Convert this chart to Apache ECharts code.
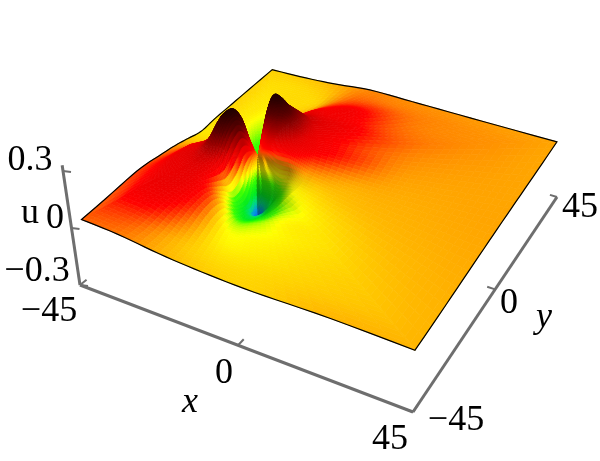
<!DOCTYPE html>
<html><head><meta charset="utf-8">
<style>html,body{margin:0;padding:0;background:#fff}#c{width:600px;height:461px}</style>
<script src="https://cdn.jsdelivr.net/npm/echarts@6/dist/echarts.min.js"></script>
</head><body><div id="c"></div>
<script>
// ---- data: u on a polar mesh around the central dip ----
const center = [-22.5, 0.8];
const anglesDeg = [61,76,91,106,121,136,151,166,181,196,211,226,241,256,271,286,301,316,331,346,361,376,391,406];
const innerRadii = [0,2,4,6,8,10,13,16];
const outerFractions = [0.2,0.4,0.6,0.8,1];
const u061 = [0,.12,.23,.285,.26,.21,.16,.11,.07,.065,.036,.012,.004];
const u076 = [0,.07,.17,.24,.22,.17,.11,.085,.065,.04,.022,.012,.006];
const u091 = [0,.02,.09,.15,.14,.10,.06,.025,0,-.015,-.025,-.02,-.012];
const u106 = [0,-.01,-.02,-.03,-.06,-.07,-.07,-.06,-.045,-.035,-.03,-.03,-.022];
const u121 = [0,-.05,-.10,-.13,-.14,-.13,-.115,-.10,-.065,-.04,-.035,-.03,-.025];
const u136 = [0,-.05,-.10,-.12,-.115,-.10,-.09,-.06,-.045,-.04,-.035,-.03,-.028];
const u151 = [0,-.03,-.07,-.08,-.075,-.06,-.05,-.04,-.038,-.036,-.035,-.035,-.03];
const u166 = [0,-.01,-.04,-.05,-.05,-.045,-.04,-.035,-.032,-.035,-.035,-.036,-.036];
const u181 = [0,0,0,-.02,-.025,-.02,-.015,-.015,-.018,-.02,-.022,-.022,-.018];
const u196 = [0,.01,.03,.04,.04,.04,.04,.02,.012,.008,.004,0,0];
const u211 = [0,.035,.11,.15,.15,.13,.09,.075,.065,.045,.03,.022,.015];
const u226 = [0,.07,.18,.23,.23,.20,.13,.095,.085,.075,.055,.04,.03];
const u241 = [0,.09,.22,.28,.28,.25,.17,.11,.08,.075,.058,.035,.02];
const u256 = [0,.06,.16,.21,.20,.16,.10,.075,.075,.072,.058,.025,.012];
const u271 = [0,.02,0,-.03,-.07,-.09,-.09,-.05,.02,.03,.01,-.01,-.01];
const u286 = [0,-.06,-.17,-.24,-.23,-.20,-.17,-.15,-.085,-.05,-.04,-.03,-.022];
const u301 = [0,-.05,-.15,-.245,-.23,-.20,-.175,-.145,-.08,-.05,-.04,-.03,-.025];
const u316 = [0,-.04,-.12,-.18,-.185,-.165,-.14,-.11,-.05,-.04,-.03,-.022,-.012];
const u331 = [0,0,-.06,-.11,-.14,-.12,-.09,-.06,-.04,-.028,-.02,-.015,-.012];
const u346 = [0,.02,-.02,-.05,-.06,-.05,-.035,-.03,-.02,-.015,-.012,-.01,-.008];
const u001 = [0,.04,.06,.05,.05,.05,.035,.015,-.005,-.008,-.008,-.006,-.005];
const u016 = [0,.06,.12,.13,.10,.085,.07,.06,.03,.002,-.003,-.004,-.005];
const u031 = [0,.07,.16,.19,.17,.13,.085,.07,.03,.012,.004,0,-.005];
const u046 = [0,.10,.21,.26,.24,.19,.125,.09,.068,.03,.012,.006,0];
const uRows = [u061,u076,u091,u106,u121,u136,u151,u166,u181,u196,u211,u226,u241,u256,u271,u286,u301,u316,u331,u346,u001,u016,u031,u046];
const xTicks = [-45,0,45], yTicks = [-45,0,45], uTicks = [-0.3,0,0.3];

// ---- projection (camera calibration) ----
function quadMap(p){ // unit square -> quad
  const [x0,y0]=p[0],[x1,y1]=p[1],[x2,y2]=p[2],[x3,y3]=p[3];
  const dx1=x1-x2,dx2=x3-x2,sx=x0-x1+x2-x3,dy1=y1-y2,dy2=y3-y2,sy=y0-y1+y2-y3;
  const det=dx1*dy2-dx2*dy1,g=(sx*dy2-dx2*sy)/det,h=(dx1*sy-sx*dy1)/det;
  const a=x1-x0+g*x1,b=x3-x0+h*x3,d=y1-y0+g*y1,e=y3-y0+h*y3;
  return (x,y)=>{const s=(x+45)/90,t=(y+45)/90,w=g*s+h*t+1;return [(a*s+b*t+x0)/w,(d*s+e*t+y0)/w];};
}
const planeMap = quadMap([[82,223],[415,348],[557,141],[272,65]]);
const boxMap = quadMap([[80,285],[413,412],[557,197],[289,115]]);
const K = 190;
function project(x,y,u){
  const [X,Y]=planeMap(x,y);
  return [X+K*u*(X-400)/320*0.15, Y-K*u];
}
function uAxisPoint(u){const f=(u+0.3)/0.6;return [80-17*f,285-114*f];}

// ---- colours ----
const colorStops = [[-.27,30,80,230],[-.235,0,150,230],[-.20,0,220,130],[-.16,0,235,30],[-.10,60,255,0],[-.075,170,255,0],[-.05,255,255,0],[-.02,255,200,0],[-.005,255,165,0],[.01,255,125,0],[.03,255,60,0],[.05,255,0,0],[.09,225,0,0],[.14,160,0,0],[.2,90,0,0],[.28,35,0,0]];
function colorOf(u,shade){
  let i=0; while(i<colorStops.length-2&&u>colorStops[i+1][0])i++;
  const a=colorStops[i],b=colorStops[i+1];
  let f=(u-a[0])/(b[0]-a[0]); f=Math.max(0,Math.min(1,f));
  const c=[1,2,3].map(k=>Math.round((a[k]+(b[k]-a[k])*f)*shade));
  return 'rgb('+c.join(',')+')';
}

// ---- smooth evaluation of the mesh (like a smoothed line) ----
const nA=anglesDeg.length, nR=uRows[0].length;
function cr(a,b,c,d,t){return 0.5*(2*b+(c-a)*t+(2*a-5*b+4*c-d)*t*t+(3*b-a-3*c+d)*t*t*t);}
function evalU(k,j){
  const k0=Math.min(Math.floor(k),nR-2),tk=k-k0,j0=Math.floor(j),tj=j-j0;
  const row=q=>{
    const r=uRows[((j0+q)%nA+nA)%nA];
    const g=m=>r[Math.max(0,Math.min(nR-1,m))];
    return cr(g(k0-1),g(k0),g(k0+1),g(k0+2),tk);
  };
  return cr(row(-1),row(0),row(1),row(2),tj);
}
function boundaryDist(c,s){
  let r=1e9;
  if(c>1e-9)r=Math.min(r,(45-center[0])/c); if(c<-1e-9)r=Math.min(r,(-45-center[0])/c);
  if(s>1e-9)r=Math.min(r,(45-center[1])/s); if(s<-1e-9)r=Math.min(r,(-45-center[1])/s);
  return r;
}
function meshXY(k,thetaDeg){
  const t=thetaDeg*Math.PI/180,c=Math.cos(t),s=Math.sin(t);
  const n=innerRadii.length-1; let r;
  if(k<=n){const i=Math.min(Math.floor(k),n-1);r=innerRadii[i]+(innerRadii[i+1]-innerRadii[i])*(k-i);}
  else{const f=(k-n)/outerFractions.length;r=innerRadii[n]+(boundaryDist(c,s)-innerRadii[n])*f;}
  return [center[0]+c*r,center[1]+s*r];
}
// refined mesh
const thetas=[];
for(let a=61;a<421;a+=2.5)thetas.push(a);
[[-45,-45],[45,-45],[45,45],[-45,45]].forEach(p=>{
  let a=Math.atan2(p[1]-center[1],p[0]-center[0])*180/Math.PI; while(a<61)a+=360; thetas.push(a);
});
thetas.sort((a,b)=>a-b);
const subR=6, ks=[]; for(let i=0;i<=(nR-1)*subR;i++)ks.push(i/subR);
const gridP=thetas.map(th=>ks.map(k=>{
  const [x,y]=meshXY(k,th),u=evalU(k,(th-61)/15);
  return {x,y,u,s:project(x,y,u),pl:planeMap(x,y)};
}));
const cells=[];
for(let a=0;a<thetas.length;a++){
  const b=(a+1)%thetas.length;
  for(let r=0;r<ks.length-1;r++){
    const q=[gridP[a][r],gridP[a][r+1],gridP[b][r+1],gridP[b][r]];
    const u=(q[0].u+q[1].u+q[2].u+q[3].u)/4;
    const depth=(q[0].pl[1]+q[1].pl[1]+q[2].pl[1]+q[3].pl[1])/4;
    // gradient of u over the ground plane, for lighting from the left
    const ax=q[2].pl[0]-q[0].pl[0],ay=q[2].pl[1]-q[0].pl[1],au=q[2].u-q[0].u;
    const bx=q[3].pl[0]-q[1].pl[0],by=q[3].pl[1]-q[1].pl[1],bu=q[3].u-q[1].u;
    const det=ax*by-ay*bx;
    const slope=Math.abs(det)>1e-6?(au*by-ay*bu)/det:0;
    const fade=Math.max(0,Math.min(1,(0.03-u)/0.03));
    const shade=1-fade*Math.max(0,Math.min(0.38,(slope-0.001)*80));
    cells.push({pts:q.map(c=>c.s),color:colorOf(u,shade),depth});
  }
}
cells.sort((a,b)=>a.depth-b.depth);
const outline=gridP.map(col=>col[col.length-1].s); outline.push(outline[0]);

// axes
const axisSegs=[];
const boxPt=(x,y)=>boxMap(x,y);
axisSegs.push({p:[uAxisPoint(-0.3),uAxisPoint(0.33)],w:3});
axisSegs.push({p:[boxPt(-45,-45),boxPt(45,-45)],w:3});
axisSegs.push({p:[boxPt(45,-45),boxPt(45,45)],w:3});
xTicks.forEach(x=>axisSegs.push({p:[boxPt(x,-45),boxPt(x,-42.8)],w:2}));
yTicks.forEach(y=>axisSegs.push({p:[boxPt(45,y),boxPt(42.8,y)],w:2}));
uTicks.forEach(u=>{const a=uAxisPoint(u);axisSegs.push({p:[a,[a[0]+8,a[1]+1]],w:2});});

const F='36px "Liberation Serif"', FI='italic 36px "Liberation Serif"';
const labels=[
 ['0.3',30,161,F],['0',55,219,F],['\u22120.3',37,272,F],['u',30,214,F],
 ['\u221245',49,312,F],['0',224,374,F],['45',390,440,F],
 ['\u221245',456,421,F],['0',509,304,F],['45',580,208,F],
 ['x',190,403,FI],['y',544,318,FI]
];
const chart=echarts.init(document.getElementById('c'),null,{renderer:'canvas'});
chart.setOption({
  animation:false,backgroundColor:'#fff',
  grid:{left:0,right:0,top:0,bottom:0},
  xAxis:{type:'value',min:0,max:600,show:false},
  yAxis:{type:'value',min:0,max:461,inverse:true,show:false},
  graphic:labels.map(l=>({type:'text',silent:true,x:l[1],y:l[2],style:{text:l[0],font:l[3],fill:'#000',align:'center',verticalAlign:'middle'}})),
  series:[
   {type:'custom',coordinateSystem:'cartesian2d',silent:true,progressive:0,clip:false,z:2,
    data:cells.map(c=>c.pts[0]),
    renderItem:(p,api)=>{const c=cells[p.dataIndex];
      return {type:'polygon',shape:{points:c.pts.map(q=>api.coord(q))},style:{fill:c.color,stroke:c.color,lineWidth:0.7}};}},
   {type:'custom',coordinateSystem:'cartesian2d',silent:true,clip:false,z:3,
    data:[outline[0]],
    renderItem:(p,api)=>({type:'polyline',shape:{points:outline.map(q=>api.coord(q))},style:{fill:null,stroke:'#000',lineWidth:1.2}})},
   {type:'custom',coordinateSystem:'cartesian2d',silent:true,clip:false,z:1,
    data:axisSegs.map(s=>s.p[0]),
    renderItem:(p,api)=>{const s=axisSegs[p.dataIndex];
      return {type:'polyline',shape:{points:s.p.map(q=>api.coord(q))},style:{fill:null,stroke:'#6e6e6e',lineWidth:s.w}};}}
  ]
});
</script></body></html>
